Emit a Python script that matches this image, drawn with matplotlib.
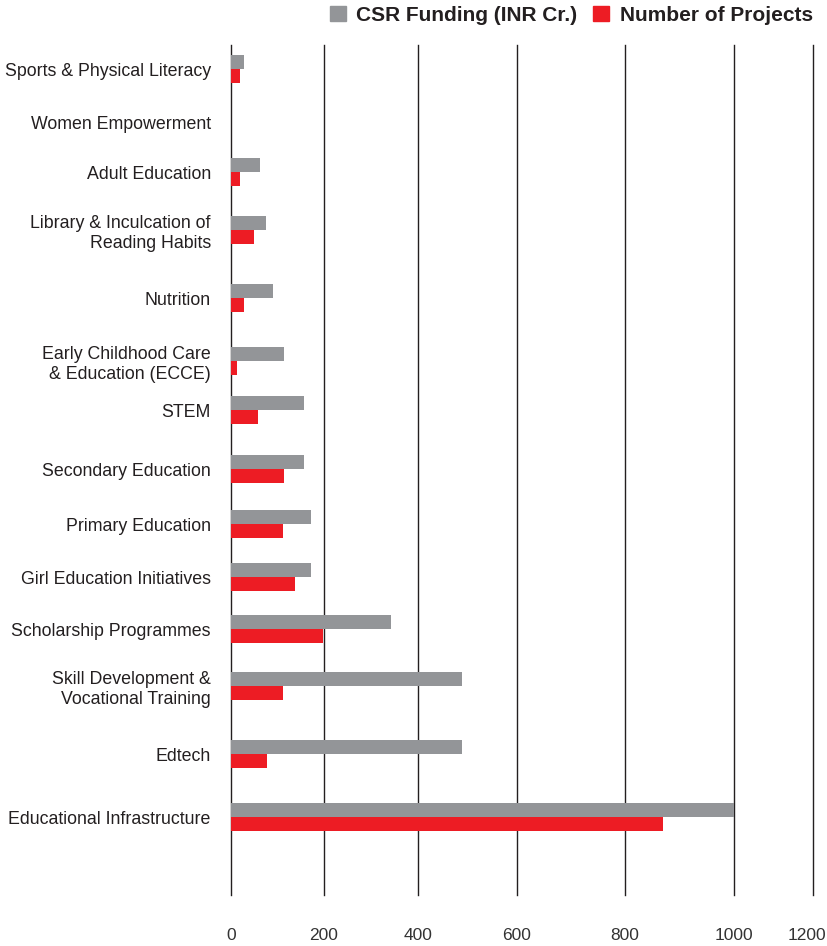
import numpy as np
import matplotlib.pyplot as plt
import matplotlib.transforms as mtransforms
from matplotlib.patches import Patch

plt.rcParams['font.family'] = ['Liberation Sans', 'DejaVu Sans']

# categories, top to bottom
categories = [
    "Sports & Physical Literacy",
    "Women Empowerment",
    "Adult Education",
    "Library & Inculcation of\nReading Habits",
    "Nutrition",
    "Early Childhood Care\n& Education (ECCE)",
    "STEM",
    "Secondary Education",
    "Primary Education",
    "Girl Education Initiatives",
    "Scholarship Programmes",
    "Skill Development &\nVocational Training",
    "Edtech",
    "Educational Infrastructure",
]
csr_funding = [28, 0, 63, 76, 91, 115, 158, 158, 172, 172, 343, 488, 488, 1000]
num_projects = [20, 0, 20, 50, 28, 13, 59, 115, 112, 138, 197, 112, 78, 870]
x_ticks = [0, 200, 400, 600, 800, 1000, 1200]

# layout: row centres (measured down from the top) and where each x tick sits
row_y = [69, 122, 172, 230, 298, 361, 410, 469, 524, 577, 629, 686, 754, 817]
tick_px = [231, 324, 418, 517, 625, 734, 813]

GREY = "#939598"
RED = "#ed1c24"
INK = "#231f20"


def fwd(x):
    return np.interp(x, x_ticks, tick_px)


def inv(p):
    return np.interp(p, tick_px, x_ticks)


fig = plt.figure(figsize=(8.28, 9.46), dpi=100)
ax = fig.add_axes([231 / 828, 51 / 946, (813 - 231) / 828, 850 / 946])
ax.set_xscale('function', functions=(fwd, inv))

bh = 14
ax.barh([y - bh / 2 for y in row_y], csr_funding, height=bh, color=GREY, zorder=3)
ax.barh([y + bh / 2 for y in row_y], num_projects, height=bh, color=RED, zorder=3)

ax.set_xlim(0, 1200)
ax.set_ylim(895, 45)

ax.set_xticks(x_ticks)
ax.set_xticklabels([str(v) for v in x_ticks])
ax.set_yticks(row_y)
ax.set_yticklabels(categories)
ax.tick_params(axis='y', length=0, pad=14.5, labelsize=12.8, labelcolor=INK)
ax.tick_params(axis='x', length=0, pad=24, labelsize=12.5, labelcolor="#333333")
for lab in ax.get_yticklabels():
    lab.set_multialignment('right')

# last tick label sits a bit inside the figure edge
last = ax.get_xticklabels()[-1]
last.set_transform(last.get_transform() + mtransforms.ScaledTranslation(-6 / 100, 0, fig.dpi_scale_trans))

ax.grid(axis='x', color=INK, linewidth=1.0, zorder=1)
ax.grid(axis='y', visible=False)
for gl in ax.get_xgridlines():
    gl.set_clip_on(False)
for s in ax.spines.values():
    s.set_visible(False)

handles = [Patch(color=GREY, label="CSR Funding (INR Cr.)"),
           Patch(color=RED, label="Number of Projects")]
leg = fig.legend(handles=handles, loc='upper right', bbox_to_anchor=(813 / 828, 1 - 6 / 946),
                 ncol=2, frameon=False, borderpad=0, borderaxespad=0,
                 handlelength=0.78, handleheight=0.72, handletextpad=0.5,
                 columnspacing=0.75, prop={'weight': 'bold', 'size': 15})
for t in leg.get_texts():
    t.set_color(INK)

fig.savefig("out.png", dpi=100)
